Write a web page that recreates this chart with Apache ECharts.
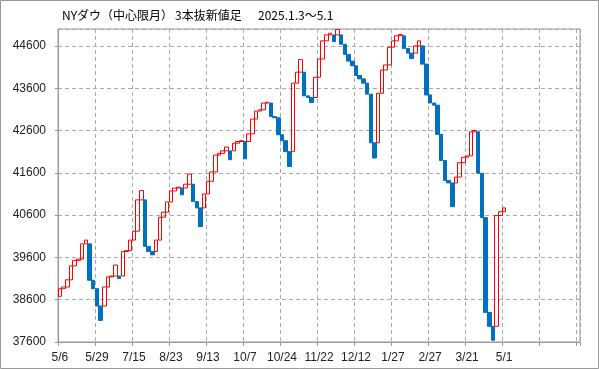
<!DOCTYPE html>
<html><head><meta charset="utf-8">
<script src="https://cdn.jsdelivr.net/npm/echarts@6/dist/echarts.min.js"></script>
<style>html,body{margin:0;padding:0;background:#fff}#c{width:599px;height:369px}</style>
</head><body><div id="c"></div>
<script>
// x-axis tick labels, one every 10 bricks
const tickLabels = ['5/6','5/29','7/15','8/23','9/13','10/7','10/24','11/22','12/12','1/27','2/27','3/21','5/1'];
// number of brick slots on the category axis
const totalSlots = 141;
// brick start values (three-line break)
const brickOpen = [
38680,38860,38900,39070,39400,39530,39560,39920,39920,39060,
38860,38450,38450,38900,39140,39160,39160,39160,39740,39760,
40010,40220,40960,40960,39860,39740,39740,40010,40550,40670,
40910,41170,41240,41240,41240,41330,41330,40920,40770,40770,
41100,41400,41620,42020,42060,42120,42120,42120,42300,42340,
42340,42340,42520,42870,43060,43090,43250,43250,42930,42900,
42500,42360,42100,42100,43720,43980,43980,43420,43380,43380,
43860,44290,44720,44860,44860,44860,44860,44640,44400,44240,
44130,43900,43820,43720,43460,42310,42310,43480,44030,44150,
44570,44720,44840,44840,44540,44430,44430,44600,44600,44170,
43440,43250,43200,42510,41890,41420,41360,41360,41500,41840,
41970,42000,42570,42570,41590,40540,38300,37970,37970,40590,
40680];
// brick end values
const brickClose = [
38860,38900,39070,39400,39530,39560,39920,40010,39060,38860,
38450,38110,38900,39140,39160,39420,39100,39740,39760,40010,
40220,40960,41180,39860,39740,39660,40010,40550,40670,40910,
41170,41240,41260,41080,41330,41570,40920,40770,40330,41100,
41400,41620,42020,42060,42120,42210,41910,42300,42340,42360,
41930,42520,42870,43060,43090,43250,43270,42930,42900,42500,
42360,42100,41750,43720,43980,44280,43420,43380,43260,43860,
44290,44720,44860,44900,44700,44990,44640,44400,44240,44130,
43900,43820,43720,43460,42310,41950,43480,44030,44150,44570,
44720,44840,44870,44540,44430,44300,44600,44720,44170,43440,
43250,43200,42510,41890,41420,41360,40800,41500,41840,41970,
42000,42570,42600,41590,40540,38300,37970,37640,40590,40680,
40770];

const categories = Array.from({length: totalSlots}, (_, i) => String(i));
const candles = brickOpen.map((o, i) => {
  const c = brickClose[i];
  return [o, c, Math.min(o, c), Math.max(o, c)];
});

const chart = echarts.init(document.getElementById('c'), null, {renderer: 'canvas'});
chart.setOption({
  animation: false,
  backgroundColor: '#fff',
  grid: {left: 58, right: 19, top: 29, bottom: 27, show: true, borderColor: '#999', borderWidth: 1},
  xAxis: {
    type: 'category', data: categories, boundaryGap: true,
    axisLine: {lineStyle: {color: '#999'}},
    axisTick: {show: true, interval: 9, length: 4, lineStyle: {color: '#999'}},
    axisLabel: {interval: 9, margin: 10, color: '#222', fontSize: 12, fontFamily: 'sans-serif',
      formatter: (v, i) => (i % 10 === 0 ? (tickLabels[i / 10] || '') : '')},
    splitLine: {show: true, interval: 9, lineStyle: {color: '#aaa', type: [4, 3]}}
  },
  yAxis: {
    type: 'value', min: 37600, max: 45000, interval: 1000,
    axisLine: {show: true, lineStyle: {color: '#999'}},
    axisTick: {show: true, length: 3, lineStyle: {color: '#999'}},
    axisLabel: {margin: 12, color: '#222', fontSize: 12, fontFamily: 'sans-serif', showMaxLabel: false,
      formatter: v => String(v)},
    splitLine: {show: true, lineStyle: {color: '#aaa', type: [4, 3]}}
  },
  series: [{
    type: 'candlestick',
    data: candles,
    barWidth: 4,
    itemStyle: {color: 'transparent', color0: '#0070C0', borderColor: '#FF0000', borderColor0: '#0070C0', borderWidth: 1}
  }],
  graphic: [
    {type: 'rect', silent: true, shape: {x: 0.5, y: 0.5, width: 598, height: 368}, style: {fill: 'none', stroke: '#999', lineWidth: 1}},
    {type: 'text', left: 62, top: 9, style: {text: 'NYダウ（中心限月）', font: '12px "Noto Sans CJK JP"', fill: '#000'}},
    {type: 'text', left: 175, top: 9, style: {text: '3本抜新値足', font: '12px "Noto Sans CJK JP"', fill: '#000'}},
    {type: 'text', left: 258, top: 9, style: {text: '2025.1.3～5.1', font: '12px "Noto Sans CJK JP"', fill: '#000'}}
  ]
});
</script></body></html>
